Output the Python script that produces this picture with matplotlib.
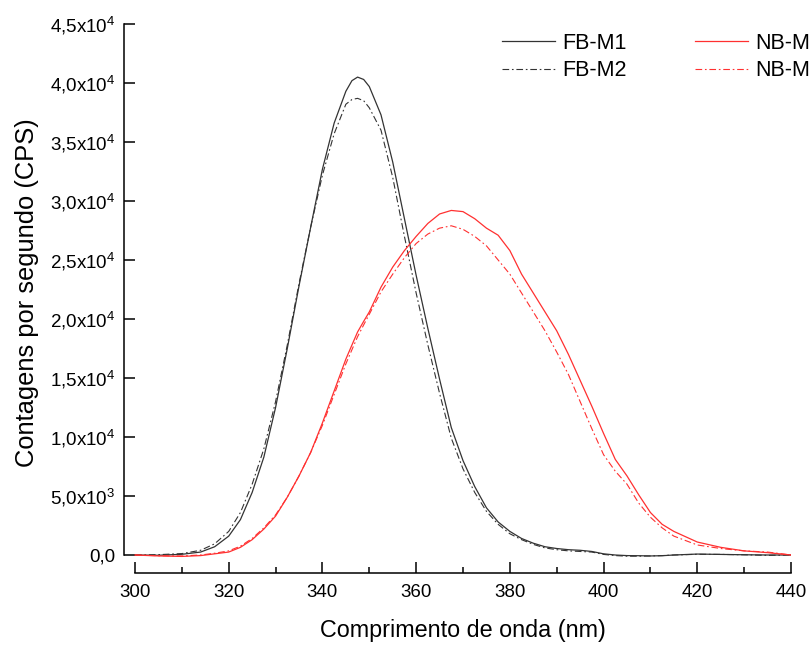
import numpy as np
import matplotlib
matplotlib.use('Agg')
import matplotlib.pyplot as plt
from matplotlib.ticker import MultipleLocator, FixedLocator

plt.rcParams['font.family'] = ['Liberation Sans', 'DejaVu Sans']
plt.rcParams['mathtext.fontset'] = 'custom'
plt.rcParams['mathtext.rm'] = 'Liberation Sans'
plt.rcParams['mathtext.it'] = 'Liberation Sans'

wl = [300, 305, 310, 314, 317, 320, 322.5, 325, 327.5, 330, 332.5, 335, 337.5, 340,
      342.5, 345, 346.3, 347.5, 348.8, 350, 352.5, 355, 357.5, 360, 362.5, 365, 367.5, 370, 372.5,
      375, 377.5, 380, 382.5, 385, 387.5, 390, 392.5, 395, 397.5, 400, 402.5, 405,
      407.5, 410, 412.5, 415, 420, 425, 430, 435, 440]

fb_m1 = [0, -20, 60, 250, 700, 1600, 3000, 5300, 8300, 12500, 17500, 22800, 27800, 32700,
         36600, 39300, 40200, 40500, 40300, 39700, 37300, 33300, 28500, 23700, 19200, 14900, 10800, 8000, 5800,
         4000, 2800, 2000, 1400, 1000, 700, 550, 450, 400, 300, 100, 0, -50,
         -60, -80, -60, 0, 80, 50, 20, 0, 0]

fb_m2 = [0, 30, 120, 400, 950, 2000, 3600, 6000, 9000, 13000, 17800, 23000, 27800, 32200,
         35700, 38200, 38600, 38700, 38500, 37900, 36000, 32000, 27000, 22200, 17800, 13700, 9900, 7300, 5300,
         3700, 2600, 1800, 1300, 900, 600, 450, 350, 300, 250, 50, -50, -100,
         -100, -80, -50, 0, 60, 50, 20, -30, 0]

nb_m1 = [0, -80, -120, -50, 100, 250, 650, 1300, 2200, 3300, 4900, 6700, 8700, 11200,
         13900, 16600, 17800, 18900, 19800, 20600, 22700, 24400, 25800, 27000, 28100, 28900, 29200, 29100, 28500,
         27700, 27100, 25800, 23800, 22200, 20600, 19000, 17000, 14800, 12600, 10300, 8100, 6700,
         5100, 3600, 2600, 2000, 1100, 650, 350, 200, 0]

nb_m2 = [0, -60, -80, 0, 150, 350, 750, 1400, 2300, 3400, 4900, 6700, 8700, 11000,
         13600, 16200, 17400, 18500, 19500, 20400, 22300, 23800, 25200, 26400, 27200, 27700, 27900, 27600, 27000,
         26200, 25000, 23800, 22200, 20600, 19000, 17200, 15300, 13000, 10700, 8500, 7100, 6000,
         4400, 3200, 2300, 1600, 850, 550, 350, 250, 0]

ytick_vals = [0, 5000, 10000, 15000, 20000, 25000, 30000, 35000, 40000, 45000]
ytick_labels = ['0,0', r'5,0x10$^3$', r'1,0x10$^4$', r'1,5x10$^4$', r'2,0x10$^4$',
                r'2,5x10$^4$', r'3,0x10$^4$', r'3,5x10$^4$', r'4,0x10$^4$', r'4,5x10$^4$']

fig = plt.figure(figsize=(8.11, 6.49), dpi=100)
ax = fig.add_axes([124 / 811, 76 / 649, 667 / 811, 549 / 649])

dd = (6, 2.5, 1.5, 2.5)
ax.plot(wl, fb_m1, color='#333333', lw=0.9, label='FB-M1')
ax.plot(wl, fb_m2, color='#333333', lw=0.8, dashes=dd, label='FB-M2')
ax.plot(wl, nb_m1, color='#ff3030', lw=0.9, label='NB-M1')
ax.plot(wl, nb_m2, color='#ff3030', lw=0.8, dashes=dd, label='NB-M2')

ax.set_xlim(297.65, 440)
ax.set_ylim(-1525, 45000)
ax.spines['top'].set_visible(False)
ax.spines['right'].set_visible(False)
ax.spines['left'].set_bounds(0, 45000)
ax.spines['bottom'].set_bounds(300, 440)
for s in ['left', 'bottom']:
    ax.spines[s].set_linewidth(1.1)

ax.xaxis.set_major_locator(MultipleLocator(20))
ax.xaxis.set_minor_locator(MultipleLocator(10))
ax.yaxis.set_major_locator(FixedLocator(ytick_vals))
ax.set_yticklabels(ytick_labels)
ax.tick_params(axis='both', which='major', direction='in', length=8, width=1.1, labelsize=13.5)
ax.tick_params(axis='x', which='minor', direction='in', length=4.5, width=1.1)
ax.tick_params(axis='x', which='major', pad=8)
ax.tick_params(axis='y', which='major', pad=6)

ax.set_xlabel('Comprimento de onda (nm)', fontsize=16.8)
ax.set_ylabel('Contagens por segundo (CPS)', fontsize=18.4)
ax.xaxis.set_label_coords(0.508, -0.084)
ax.yaxis.set_label_coords(-0.127, 0.51)

ax.legend(loc='upper left', bbox_to_anchor=(502 / 811, 1 - 33 / 649), bbox_transform=fig.transFigure,
          ncol=2, frameon=False, fontsize=15.5, borderpad=0, borderaxespad=0,
          handlelength=2.45, handletextpad=0.37, columnspacing=3.14, labelspacing=0.3)

fig.savefig('out.png', dpi=100)
